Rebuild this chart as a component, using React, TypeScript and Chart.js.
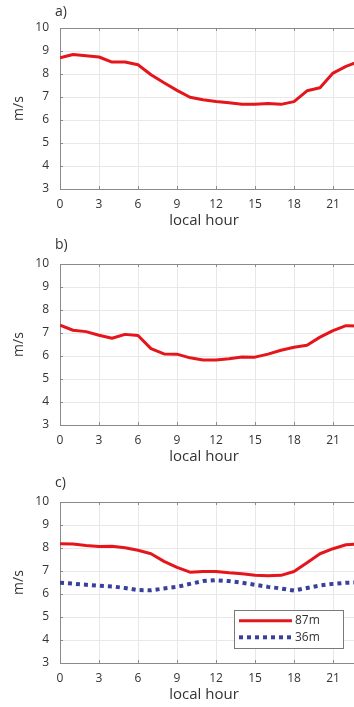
import React, { useEffect, useRef } from 'react';
import { Chart, registerables } from 'chart.js';

Chart.register(...registerables);

// ---- data ----
const hours = [0, 1, 2, 3, 4, 5, 6, 7, 8, 9, 10, 11, 12, 13, 14, 15, 16, 17, 18, 19, 20, 21, 22, 23];
const xTicksStep = 3;
const xMin = 0;
const xMax = 24;
const yMin = 3;
const yMax = 10;
const yTickStep = 1;

const panelA_87m = [8.7, 8.85, 8.79, 8.74, 8.52, 8.52, 8.4, 7.97, 7.62, 7.29, 6.99, 6.88, 6.8, 6.75, 6.68, 6.69, 6.72, 6.68, 6.8, 7.27, 7.4, 8.04, 8.33, 8.55];
const panelB_87m = [7.34, 7.12, 7.06, 6.9, 6.77, 6.94, 6.89, 6.32, 6.09, 6.08, 5.92, 5.83, 5.83, 5.88, 5.96, 5.95, 6.08, 6.25, 6.38, 6.47, 6.82, 7.1, 7.32, 7.3];
const panelC_87m = [8.19, 8.17, 8.11, 8.07, 8.08, 8.01, 7.9, 7.75, 7.42, 7.16, 6.95, 6.98, 6.98, 6.92, 6.88, 6.82, 6.79, 6.81, 6.98, 7.36, 7.75, 7.97, 8.14, 8.17];
const panelC_36m = [6.49, 6.45, 6.4, 6.36, 6.33, 6.26, 6.17, 6.16, 6.24, 6.31, 6.44, 6.56, 6.6, 6.56, 6.49, 6.4, 6.31, 6.24, 6.15, 6.26, 6.37, 6.44, 6.49, 6.5];

const panelLabels = ['a)', 'b)', 'c)'];
const seriesLabels = ['87m', '36m'];
const xTitle = 'local hour';
const yTitle = 'm/s';

// ---- styles ----
const RED = '#e4161c';
const BLUE = '#39409c';
const TEXT = '#333333';
const AXIS = '#8a8a8a';
const GRID = '#e8e8e8';
const FONT = '"Open Sans", "Liberation Sans", sans-serif';

const CANVAS_W = 400;
const CANVAS_H = 235;

type Series = { label: string; values: number[]; color: string; width: number; dash: number[] };

const framePlugin = {
  id: 'frame',
  afterDraw(chart: any, _args: any, opts: any) {
    const { ctx, chartArea, scales } = chart;
    const { left, right, top, bottom } = chartArea;
    const x = scales.x;
    const y = scales.y;
    ctx.save();
    ctx.strokeStyle = AXIS;
    ctx.lineWidth = 1;
    ctx.beginPath();
    ctx.moveTo(left, Math.round(top) + 0.5);
    ctx.lineTo(right, Math.round(top) + 0.5);
    x.ticks.forEach((t: any) => {
      const px = Math.round(x.getPixelForValue(t.value)) + 0.5;
      ctx.moveTo(px, bottom);
      ctx.lineTo(px, bottom - 3);
      ctx.moveTo(px, top);
      ctx.lineTo(px, top + 3);
    });
    y.ticks.forEach((t: any) => {
      const py = Math.round(y.getPixelForValue(t.value)) + 0.5;
      ctx.moveTo(left, py);
      ctx.lineTo(left + 3, py);
    });
    ctx.stroke();

    // panel label
    ctx.fillStyle = TEXT;
    ctx.font = `14px ${FONT}`;
    ctx.textAlign = 'left';
    ctx.textBaseline = 'middle';
    ctx.fillText(opts.label, 55, opts.labelY);

    // x axis title
    ctx.font = `15px ${FONT}`;
    ctx.textAlign = 'center';
    ctx.fillText(xTitle, 204, bottom + 32);

    // legend
    if (opts.legend) {
      const bx = 234.5, by = 136.5, bw = 109, bh = 38;
      ctx.fillStyle = '#ffffff';
      ctx.fillRect(bx, by, bw, bh);
      ctx.strokeStyle = '#7a7a7a';
      ctx.lineWidth = 1;
      ctx.strokeRect(bx, by, bw, bh);
      const rows = [146.7, 163.3];
      chart.data.datasets.forEach((ds: any, i: number) => {
        const ry = rows[i];
        ctx.save();
        ctx.strokeStyle = ds.borderColor;
        ctx.lineWidth = ds.borderWidth;
        ctx.lineCap = 'butt';
        ctx.setLineDash(ds.borderDash || []);
        ctx.beginPath();
        ctx.moveTo(239, ry);
        ctx.lineTo(292, ry);
        ctx.stroke();
        ctx.restore();
        ctx.fillStyle = TEXT;
        ctx.font = `12px ${FONT}`;
        ctx.textAlign = 'left';
        ctx.textBaseline = 'middle';
        ctx.fillText(ds.label, 295, ry);
      });
    }
    ctx.restore();
  },
};

function Panel({ top, label, labelY, series, legend }: { top: number; label: string; labelY: number; series: Series[]; legend: boolean }) {
  const ref = useRef<HTMLCanvasElement>(null);
  useEffect(() => {
    if (!ref.current) return;
    const chart = new Chart(ref.current, {
      type: 'line',
      data: {
        datasets: series.map((s) => ({
          label: s.label,
          data: hours.map((h, i) => ({ x: h, y: s.values[i] })),
          borderColor: s.color,
          backgroundColor: s.color,
          borderWidth: s.width,
          borderDash: s.dash,
          borderCapStyle: 'butt',
          borderJoinStyle: 'round',
          pointRadius: 0,
          tension: 0,
          fill: false,
        })),
      },
      options: {
        responsive: false,
        animation: false,
        devicePixelRatio: 1,
        layout: { padding: { top: 28, left: 0, right: 28, bottom: 0 } },
        plugins: {
          legend: { display: false },
          tooltip: { enabled: false },
          frame: { label, labelY, legend },
        } as any,
        scales: {
          x: {
            type: 'linear',
            min: xMin,
            max: xMax,
            ticks: {
              stepSize: xTicksStep,
              padding: 8,
              color: TEXT,
              font: { family: FONT, size: 12 },
              maxRotation: 0,
              autoSkip: false,
            },
            grid: { color: GRID, drawTicks: false },
            border: { color: AXIS, width: 1 },
            title: { display: false },
            afterFit: (s: any) => {
              s.height = 46;
            },
          },
          y: {
            type: 'linear',
            min: yMin,
            max: yMax,
            ticks: {
              stepSize: yTickStep,
              padding: 11,
              color: TEXT,
              font: { family: FONT, size: 12 },
            },
            grid: { color: GRID, drawTicks: false },
            border: { color: AXIS, width: 1 },
            title: {
              display: true,
              text: yTitle,
              color: TEXT,
              font: { family: FONT, size: 14 },
              padding: { top: 11, bottom: 0 },
            },
            afterFit: (s: any) => {
              s.width = 60;
            },
          },
        },
      } as any,
      plugins: [framePlugin],
    });
    return () => chart.destroy();
  }, []);
  return (
    <canvas
      ref={ref}
      width={CANVAS_W}
      height={CANVAS_H}
      style={{ position: 'absolute', left: 0, top, width: CANVAS_W, height: CANVAS_H }}
    />
  );
}

export default function App() {
  const red = (values: number[]): Series => ({ label: seriesLabels[0], values, color: RED, width: 3, dash: [] });
  const blue = (values: number[]): Series => ({ label: seriesLabels[1], values, color: BLUE, width: 4, dash: [4, 4] });
  return (
    <div style={{ position: 'absolute', left: 0, top: 0, width: 354, height: 707, overflow: 'hidden', background: '#fff' }}>
      <Panel top={0} label={panelLabels[0]} labelY={12.5} series={[red(panelA_87m)]} legend={false} />
      <Panel top={236} label={panelLabels[1]} labelY={9.5} series={[red(panelB_87m)]} legend={false} />
      <Panel top={474} label={panelLabels[2]} labelY={9} series={[red(panelC_87m), blue(panelC_36m)]} legend={true} />
    </div>
  );
}
